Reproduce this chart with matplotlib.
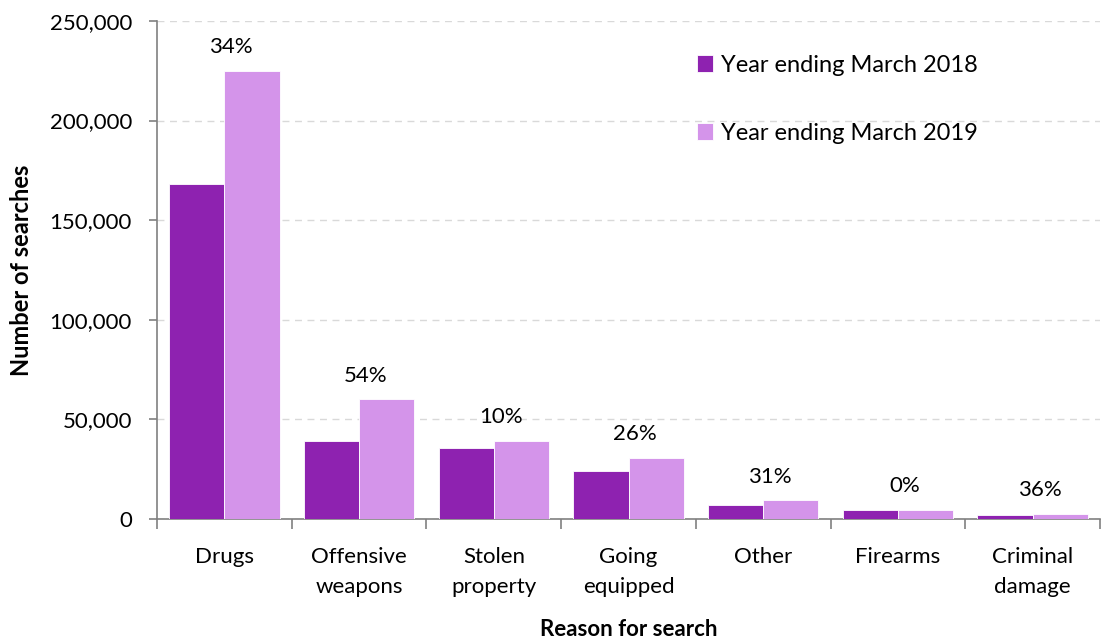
import numpy as np
import matplotlib.pyplot as plt
from matplotlib.ticker import FuncFormatter

plt.rcParams['font.family'] = ['Lato', 'DejaVu Sans']

reasons = ["Drugs", "Offensive\nweapons", "Stolen\nproperty", "Going\nequipped",
           "Other", "Firearms", "Criminal\ndamage"]
searches_2018 = [168200, 39000, 35400, 24300, 7100, 4300, 1800]
searches_2019 = [225100, 60000, 39000, 30600, 9300, 4300, 2450]
series_names = ["Year ending March 2018", "Year ending March 2019"]

dark = "#8e22b0"
light = "#d494ea"

fig = plt.figure(figsize=(11.06, 6.42), dpi=100)
ax = fig.add_axes([0.142, 0.1916, 0.8526, 0.7757])

x = np.arange(len(reasons))
w = 0.41
ax.bar(x - w / 2, searches_2018, w, color=dark, edgecolor="white", linewidth=0.6,
       label=series_names[0], zorder=3)
ax.bar(x + w / 2, searches_2019, w, color=light, edgecolor="white", linewidth=0.6,
       label=series_names[1], zorder=3)

# percentage change labels above each pair
for i, (a, b) in enumerate(zip(searches_2018, searches_2019)):
    pct = round((b - a) / a * 100)
    ax.text(x[i] + 0.05, max(a, b) + 7000, f"{pct}%", ha="center", va="bottom",
            fontsize=16, color="black")

ax.set_xlim(-0.5, len(reasons) - 0.5)
ax.set_ylim(0, 250000)
ax.set_yticks(np.arange(0, 250001, 50000))
ax.yaxis.set_major_formatter(FuncFormatter(lambda v, p: f"{int(v):,}"))

ax.set_xticks(x)
ax.set_xticklabels(reasons, fontsize=16, linespacing=1.65)
ax.set_xticks(np.arange(-0.5, len(reasons)), minor=True)
ax.tick_params(axis="x", which="major", length=0, pad=20)
ax.tick_params(axis="x", which="minor", length=7, color="#808080", width=1.2)
ax.tick_params(axis="y", length=6, color="#808080", width=1.2, labelsize=16, pad=12)

for side in ["top", "right"]:
    ax.spines[side].set_visible(False)
for side in ["left", "bottom"]:
    ax.spines[side].set_color("#808080")
    ax.spines[side].set_linewidth(1.2)

ax.yaxis.grid(True, linestyle=(0, (5, 4)), color="#d9d9d9", linewidth=1, zorder=0)
ax.set_axisbelow(True)

ax.set_ylabel("Number of searches", fontsize=17, fontweight="bold", labelpad=12)
ax.set_xlabel("Reason for search", fontsize=16, fontweight="bold", labelpad=16)

ax.legend(loc="upper left", bbox_to_anchor=(0.55, 0.975), frameon=False, fontsize=17,
          handlelength=0.7, handleheight=0.7, handletextpad=0.3, labelspacing=2.0)

fig.savefig("out.png", dpi=100)
